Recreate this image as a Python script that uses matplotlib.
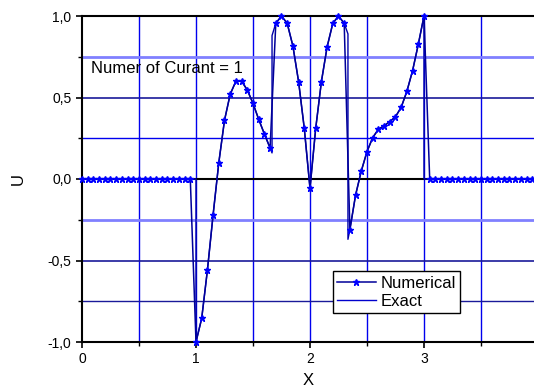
import numpy as np
import matplotlib.pyplot as plt
from matplotlib.ticker import MultipleLocator, FuncFormatter

plt.rcParams['font.family'] = ['Liberation Sans', 'DejaVu Sans']

# numerical solution, h = 0.05 on [0, 3.95]
x_num = np.round(np.arange(80) * 0.05, 2)
u_num = [0.0] * 20 + [
    -1.0, -0.855, -0.56, -0.22, 0.10, 0.36, 0.52, 0.60, 0.60, 0.546,
    0.464, 0.366, 0.276, 0.19, 0.955, 1.0, 0.955, 0.816, 0.597, 0.31,
    -0.057, 0.31, 0.597, 0.81, 0.955, 1.0, 0.955, -0.31, -0.098, 0.049,
    0.168, 0.254, 0.305, 0.327, 0.352, 0.382, 0.44, 0.538, 0.665, 0.826,
    1.0] + [0.0] * 19

# exact solution (same as numerical at nodes, with the jumps)
x_ex = [0.0, 1.0, 1.0, 1.05, 1.10, 1.15, 1.20, 1.25, 1.30, 1.35, 1.40, 1.45,
        1.50, 1.55, 1.60, 1.65, 1.667, 1.667, 1.70, 1.75, 1.80, 1.85, 1.90,
        1.95, 2.00, 2.05, 2.10, 2.15, 2.20, 2.25, 2.30, 2.333, 2.333, 2.35,
        2.40, 2.45, 2.50, 2.55, 2.60, 2.65, 2.70, 2.75, 2.80, 2.85, 2.90,
        2.95, 3.0, 3.0, 3.965]
u_ex = [0.0, 0.0, -1.0, -0.855, -0.56, -0.22, 0.10, 0.36, 0.52, 0.60, 0.60,
        0.546, 0.464, 0.366, 0.276, 0.19, 0.16, 0.88, 0.955, 1.0, 0.955,
        0.816, 0.597, 0.31, -0.057, 0.31, 0.597, 0.81, 0.955, 1.0, 0.955,
        0.89, -0.37, -0.31, -0.098, 0.049, 0.168, 0.254, 0.305, 0.327,
        0.352, 0.382, 0.44, 0.538, 0.665, 0.826, 1.0, 0.0, 0.0]

fig = plt.figure(figsize=(5.34, 3.92), dpi=100)
ax = fig.add_axes([82 / 534, 1 - 342 / 392, 1 - 82 / 534, 326 / 392])

# grid like the original
for gx in [0.5, 1.0, 1.5, 2.0, 2.5, 3.0, 3.5]:
    ax.axvline(gx, color='#0000ee', lw=1.0, zorder=1)
for gy, c, w in [(0.75, '#8080ff', 2.0), (0.5, '#1a1a99', 1.2),
                 (0.25, '#0000ee', 1.0), (-0.25, '#8080ff', 2.0),
                 (-0.5, '#1a1a99', 1.2), (-0.75, '#1a1a99', 1.0)]:
    ax.axhline(gy, color=c, lw=w, zorder=1)
ax.axhline(0, color='black', lw=1.5, zorder=1)

ax.plot(x_ex, u_ex, color='#0000aa', lw=1.0, label='_nolegend_', zorder=3)
ln_num, = ax.plot(x_num, u_num, color='#000099', lw=1.1, marker='*',
                  markersize=5, markerfacecolor='#0000ff',
                  markeredgecolor='#0000ff', zorder=4, clip_on=False)
ln_ex, = ax.plot([], [], color='#0000cc', lw=1.0)

ax.set_xlim(0, 3.965)
ax.set_ylim(-1, 1)
ax.xaxis.set_major_locator(MultipleLocator(1))
ax.xaxis.set_minor_locator(MultipleLocator(0.5))
ax.yaxis.set_major_locator(MultipleLocator(0.5))
ax.yaxis.set_minor_locator(MultipleLocator(0.25))
ax.yaxis.set_major_formatter(FuncFormatter(lambda v, p: ('%.1f' % v).replace('.', ',')))
ax.tick_params(which='major', direction='out', length=4, width=1.2, labelsize=10)
ax.tick_params(which='minor', direction='out', length=3, width=1.0)

for s in ['left', 'bottom', 'top']:
    ax.spines[s].set_linewidth(1.5)
ax.spines['right'].set_visible(False)

ax.set_xlabel('X', fontsize=12, labelpad=5)
ax.set_ylabel('U', fontsize=12, labelpad=16)

ax.text(0.08, 0.68, 'Numer of Curant = 1', fontsize=12, va='center', ha='left')

leg = ax.legend([ln_num, ln_ex], ['Numerical', 'Exact'], loc='lower left',
                bbox_to_anchor=((333 - 82) / 452, (342 - 313) / 326),
                fontsize=12, frameon=True, fancybox=False, framealpha=1,
                edgecolor='black', borderpad=0.25, labelspacing=0.2,
                handlelength=2.3, handletextpad=0.3, borderaxespad=0)
leg.get_frame().set_linewidth(1.0)
leg.set_zorder(10)

fig.savefig('out.png', dpi=100)
